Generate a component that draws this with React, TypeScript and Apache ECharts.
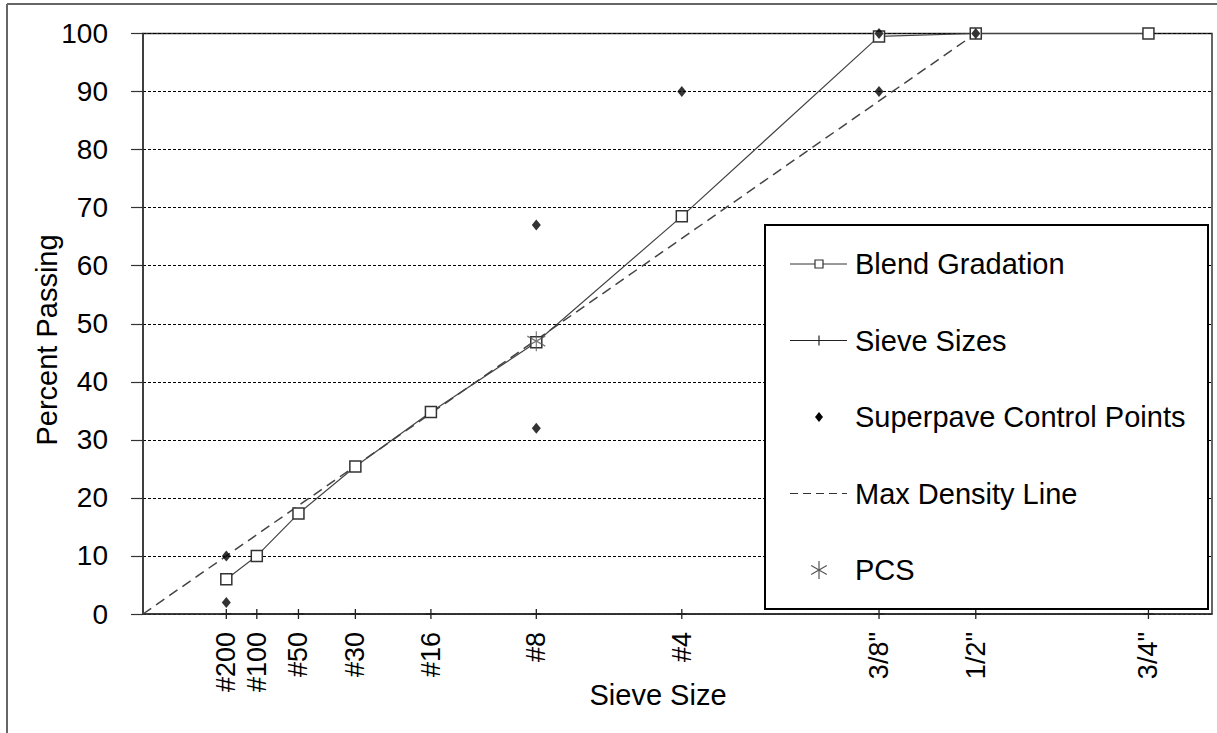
import React, { useEffect, useRef } from "react";
import * as echarts from "echarts";

// Sieve openings (mm) and their labels, plotted on a 0.45 power scale
const sieveLabels = ['#200', '#100', '#50', '#30', '#16', '#8', '#4', '3/8"', '1/2"', '3/4"'];
const sieveSizesMm = [0.075, 0.15, 0.3, 0.6, 1.18, 2.36, 4.75, 9.5, 12.5, 19];

// Percent passing of the blend at each sieve
const blendPassing = [6, 10, 17.3, 25.4, 34.8, 46.8, 68.5, 99.5, 100, 100];

// Superpave control points (sieve mm, percent passing)
const controlSizesMm = [0.075, 0.075, 2.36, 2.36, 4.75, 9.5, 9.5, 12.5];
const controlPassing = [2, 10, 32, 67, 90, 90, 100, 100];

// Maximum density line from origin to the maximum aggregate size
const maxDensitySizesMm = [0, 12.5];
const maxDensityPassing = [0, 100];

// Primary control sieve
const pcsSizesMm = [2.36];
const pcsPassing = [47];

const POWER = 0.45;
const pw = (mm: number) => Math.pow(mm, POWER);

const FONT = '"Liberation Sans", Arial, sans-serif';

const PLUS = "path://M0,-1 L0,1 M-1,0 L1,0";
const ASTERISK = "path://M0,-1 L0,1 M-0.87,-0.5 L0.87,0.5 M-0.87,0.5 L0.87,-0.5";

const legendItems = ["Blend Gradation", "Sieve Sizes", "Superpave Control Points", "Max Density Line", "PCS"];

function buildLegend(): any[] {
  const boxX = 765, boxY = 225, boxW = 443, boxH = 384;
  const firstY = 264, step = 76.5;
  const lx1 = 790, lx2 = 847, cx = 819, tx = 855;
  const els: any[] = [
    {
      type: "rect", z: 100,
      shape: { x: boxX, y: boxY, width: boxW, height: boxH },
      style: { fill: "#fff", stroke: "#000", lineWidth: 2 },
    },
  ];
  legendItems.forEach((name, i) => {
    const y = firstY + i * step;
    els.push({
      type: "text", z: 101, x: tx, y,
      style: { text: name, fontSize: 29, fontFamily: FONT, fill: "#000", align: "left", verticalAlign: "middle" },
    });
    if (i === 0) {
      els.push({ type: "line", z: 101, shape: { x1: lx1, y1: y, x2: lx2, y2: y }, style: { stroke: "#333", lineWidth: 1 } });
      els.push({ type: "rect", z: 102, shape: { x: cx - 4, y: y - 4, width: 8, height: 8 }, style: { fill: "#fff", stroke: "#333", lineWidth: 1.2 } });
    } else if (i === 1) {
      els.push({ type: "line", z: 101, shape: { x1: lx1, y1: y, x2: lx2, y2: y }, style: { stroke: "#222", lineWidth: 1.2 } });
      els.push({ type: "line", z: 101, shape: { x1: cx, y1: y - 5, x2: cx, y2: y + 5 }, style: { stroke: "#222", lineWidth: 1.2 } });
    } else if (i === 2) {
      els.push({ type: "polygon", z: 101, shape: { points: [[cx, y - 5], [cx + 4, y], [cx, y + 5], [cx - 4, y]] }, style: { fill: "#000" } });
    } else if (i === 3) {
      els.push({ type: "line", z: 101, shape: { x1: lx1, y1: y, x2: lx2, y2: y }, style: { stroke: "#333", lineWidth: 1.2, lineDash: [8, 5] } });
    } else {
      const r = 9;
      els.push({ type: "line", z: 101, shape: { x1: cx, y1: y - r, x2: cx, y2: y + r }, style: { stroke: "#555", lineWidth: 1.2 } });
      els.push({ type: "line", z: 101, shape: { x1: cx - r * 0.87, y1: y - r * 0.5, x2: cx + r * 0.87, y2: y + r * 0.5 }, style: { stroke: "#555", lineWidth: 1.2 } });
      els.push({ type: "line", z: 101, shape: { x1: cx - r * 0.87, y1: y + r * 0.5, x2: cx + r * 0.87, y2: y - r * 0.5 }, style: { stroke: "#555", lineWidth: 1.2 } });
    }
  });
  return els;
}

export default function App() {
  const ref = useRef<HTMLDivElement>(null);

  useEffect(() => {
    if (!ref.current) return;
    const chart = echarts.init(ref.current, null, { renderer: "svg" });
    const sieveX = sieveSizesMm.map(pw);

    const labelFor = (v: number) => {
      for (let i = 0; i < sieveX.length; i++) {
        if (Math.abs(sieveX[i] - v) < 1e-6) return sieveLabels[i];
      }
      return "";
    };

    chart.setOption({
      animation: false,
      backgroundColor: "#fff",
      textStyle: { fontFamily: FONT },
      grid: {
        left: 143, right: 5, top: 33.5, bottom: 119,
        show: true, borderColor: "#333", borderWidth: 1.5, backgroundColor: "transparent",
      },
      xAxis: {
        type: "value", min: 0, max: 4,
        axisLine: { show: true, onZero: false, lineStyle: { color: "#333", width: 1.5 } },
        axisTick: { show: false },
        splitLine: { show: false },
        axisLabel: {
          customValues: sieveX,
          formatter: (v: number) => labelFor(v),
          rotate: 90, margin: 18, fontSize: 27, color: "#000", fontFamily: FONT,
        },
      },
      yAxis: {
        type: "value", min: 0, max: 100, interval: 10,
        axisLine: { show: true, lineStyle: { color: "#333", width: 1.5 } },
        axisTick: { show: true, length: 12, lineStyle: { color: "#333", width: 1.2 } },
        splitLine: { show: true, lineStyle: { color: "#000", width: 1, type: [3, 2] } },
        axisLabel: { margin: 35, fontSize: 28, color: "#000", fontFamily: FONT },
      },
      series: [
        {
          name: "Max Density Line", type: "line", z: 2,
          data: maxDensitySizesMm.map((s, i) => [pw(s), maxDensityPassing[i]]),
          symbol: "none",
          lineStyle: { color: "#444", width: 1.5, type: [10, 6] },
        },
        {
          name: "Sieve Sizes", type: "line", z: 3,
          data: sieveX.map((x) => [x, 0]),
          symbol: PLUS, symbolSize: 10,
          itemStyle: { color: "none", borderColor: "#222", borderWidth: 1.3 },
          lineStyle: { color: "#333", width: 1.5 },
        },
        {
          name: "Blend Gradation", type: "line", z: 4,
          data: sieveX.map((x, i) => [x, blendPassing[i]]),
          symbol: "rect", symbolSize: 11,
          itemStyle: { color: "#fff", borderColor: "#333", borderWidth: 1.5 },
          lineStyle: { color: "#444", width: 1.2 },
        },
        {
          name: "Superpave Control Points", type: "scatter", z: 5,
          data: controlSizesMm.map((s, i) => [pw(s), controlPassing[i]]),
          symbol: "diamond", symbolSize: [9, 11],
          itemStyle: { color: "#000" },
        },
        {
          name: "PCS", type: "scatter", z: 6,
          data: pcsSizesMm.map((s, i) => [pw(s), pcsPassing[i]]),
          symbol: ASTERISK, symbolSize: [18, 20],
          itemStyle: { color: "none", borderColor: "#555", borderWidth: 1.2 },
        },
      ],
      graphic: [
        { type: "line", shape: { x1: 7, y1: 4, x2: 1217, y2: 4 }, style: { stroke: "#666", lineWidth: 2 } },
        { type: "line", shape: { x1: 7, y1: 4, x2: 7, y2: 733 }, style: { stroke: "#666", lineWidth: 2 } },
        {
          type: "text", x: 47, y: 340, rotation: Math.PI / 2,
          style: { text: "Percent Passing", fontSize: 29, fontFamily: FONT, fill: "#000", align: "center", verticalAlign: "middle" },
        },
        {
          type: "text", x: 658, y: 695,
          style: { text: "Sieve Size", fontSize: 29, fontFamily: FONT, fill: "#000", align: "center", verticalAlign: "middle" },
        },
        ...buildLegend(),
      ],
    });

    return () => chart.dispose();
  }, []);

  return (
    <div
      ref={ref}
      style={{ position: "fixed", left: 0, top: 0, width: 1217, height: 733, background: "#fff" }}
    />
  );
}
